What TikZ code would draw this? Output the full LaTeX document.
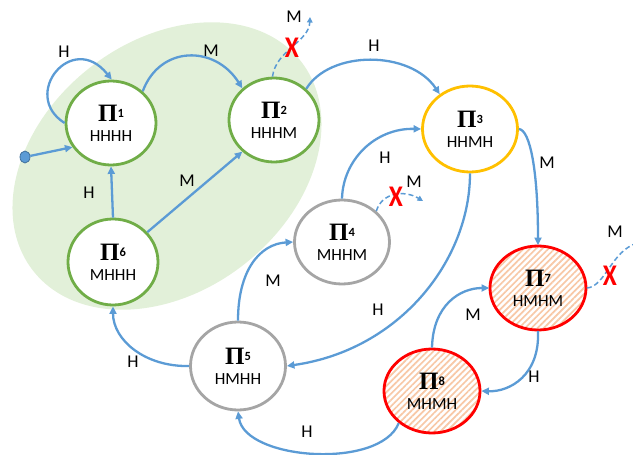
\documentclass[tikz,border=0pt]{standalone}
\usepackage{fontspec}
\setmainfont{Carlito}
\newfontfamily\pifont{Liberation Serif}
\usetikzlibrary{arrows.meta,shapes.geometric,patterns.meta}

\definecolor{edgeblue}{HTML}{5B9BD5}
\definecolor{dotline}{HTML}{41719C}
\definecolor{stgreen}{HTML}{70AD47}
\definecolor{regionfill}{HTML}{E2F0D9}
\definecolor{styellow}{HTML}{FFC000}
\definecolor{stgrey}{HTML}{A5A5A5}
\definecolor{stred}{HTML}{FF0000}
\definecolor{hatchcol}{HTML}{F8C8A6}

% state label: big Pi with a small bold index, code word below
\newcommand\stname[2]{{\pifont\bfseries\fontsize{25}{25}\selectfont Π}\raisebox{4pt}{\bfseries\fontsize{12.5}{12.5}\selectfont #1}\\#2}
\newcommand\blocked{\scalebox{0.85}[1]{X}}

\tikzset{
  stnode/.style={ellipse, draw, line width=2.8pt, fill=white, inner sep=0pt,
    align=center, font=\fontsize{17}{20}\selectfont,
    minimum width=93pt, minimum height=85pt},
  stgreenbox/.style={stnode, draw=stgreen, minimum width=90pt, minimum height=84pt},
  styellowbox/.style={stnode, draw=styellow, minimum width=95pt, minimum height=86pt},
  stgreybox/.style={stnode, draw=stgrey, minimum width=95pt, minimum height=84pt},
  stredbox/.style={stnode, draw=stred, minimum width=96pt, minimum height=84pt,
    fill=none, preaction={fill=white},
    pattern={Lines[angle=45,distance=4.4pt,line width=1.7pt]}, pattern color=hatchcol},
  edge/.style={draw=edgeblue, line width=2.3pt, -{Triangle[length=7.5pt,width=7pt]}},
  lostedge/.style={draw=edgeblue, line width=1.5pt, dash pattern=on 5pt off 3pt,
    -{Triangle[length=5.5pt,width=5.5pt]}},
  edgelbl/.style={inner sep=0pt, font=\fontsize{18}{18}\selectfont},
  xmark/.style={inner sep=0pt, text=stred, font=\fontsize{30}{30}\selectfont\bfseries},
}

\begin{document}
\begin{tikzpicture}[x=1pt,y=-1pt]
\useasboundingbox (0,0) rectangle (633,455);
\clip (0,0) rectangle (633,455);

% shaded region around the first three states
\fill[regionfill, rotate around={38:(167,166)}] (167,166) ellipse [x radius=170pt, y radius=125pt];

% states
\node[stgreenbox] (p1) at (111,123) {\stname{1}{HHHH}};
\node[stgreenbox] (p2) at (274,120) {\stname{2}{HHHM}};
\node[styellowbox] (p3) at (470,129) {\stname{3}{HHMH}};
\node[stgreybox] (p4) at (342,242) {\stname{4}{MHHM}};
\node[stgreybox, minimum height=88pt] (p5) at (238,366) {\stname{5}{HMHH}};
\node[stgreenbox, minimum height=86pt] (p6) at (113,262) {\stname{6}{MHHH}};
\node[stredbox] (p7) at (538,288) {\stname{7}{HMHM}};
\node[stredbox] (p8) at (432,391) {\stname{8}{MHMH}};

% initial marker
\node[ellipse, fill=edgeblue, draw=dotline, line width=0.8pt, inner sep=0pt,
      minimum width=10pt, minimum height=12pt] (init) at (25,157) {};
\draw[edge] (init) -- (p1.212);

% transitions
\draw[edge] (p1.180) .. controls (20,95) and (72,30) .. (p1.89);
\draw[edge] (p1.45) .. controls (160,45) and (215,45) .. (p2.135);
\draw[edge] (p6.north) -- (p1.south);
\draw[edge] (p6.41) -- (p2.225);
\draw[edge] (p2.44) .. controls (330,50) and (410,50) .. (p3.131);
\draw[edge] (p4.north) .. controls (343,160) and (375,128) .. (p3.west);
\draw[edge] (p3.east) .. controls (530,130) and (538,170) .. (p7.north);
\draw[edge] (p3.south) .. controls (470,260) and (400,350) .. (p5.east);
\draw[edge] (p5.north) .. controls (238,270) and (260,244) .. (p4.west);
\draw[edge] (p5.west) .. controls (145,367) and (113,340) .. (p6.south);
\draw[edge] (p8.north) .. controls (433,305) and (460,288) .. (p7.west);
\draw[edge] (p7.south) .. controls (540,375) and (510,392) .. (p8.east);
\draw[edge] (p8.224) .. controls (380,470) and (245,460) .. (p5.south);

% blocked transitions
\coordinate (out2) at (310,17);
\coordinate (out4) at (423,201);
\coordinate (out7) at (642,242);
\draw[lostedge] (p2.92) .. controls (276,50) and (309,42) .. (out2);
\draw[lostedge] (p4.42) .. controls (382,192) and (405,190) .. (out4);
\draw[lostedge] (p7.east) .. controls (605,287) and (612,250) .. (out7);
\node[xmark] (x2) at (292,48) {\blocked};
\node[xmark] (x4) at (396,197) {\blocked};
\node[xmark] (x7) at (610,276) {\blocked};

% transition labels
\node[edgelbl] (l11) at (64,52) {H};
\node[edgelbl] (l12) at (211,51) {M};
\node[edgelbl] (l61) at (89,193) {H};
\node[edgelbl] (l62) at (187,181) {M};
\node[edgelbl] (l23) at (374,46) {H};
\node[edgelbl] (l2x) at (294,17) {M};
\node[edgelbl] (l43) at (385,158) {H};
\node[edgelbl] (l4x) at (414,182) {M};
\node[edgelbl] (l37) at (547,163) {M};
\node[edgelbl] (l35) at (378,310) {H};
\node[edgelbl] (l54) at (273,281) {M};
\node[edgelbl] (l56) at (133,362) {H};
\node[edgelbl] (l87) at (473,315) {M};
\node[edgelbl] (l78) at (534,377) {H};
\node[edgelbl] (l7x) at (615,232) {M};
\node[edgelbl] (l85) at (307,432) {H};
\end{tikzpicture}
\end{document}
